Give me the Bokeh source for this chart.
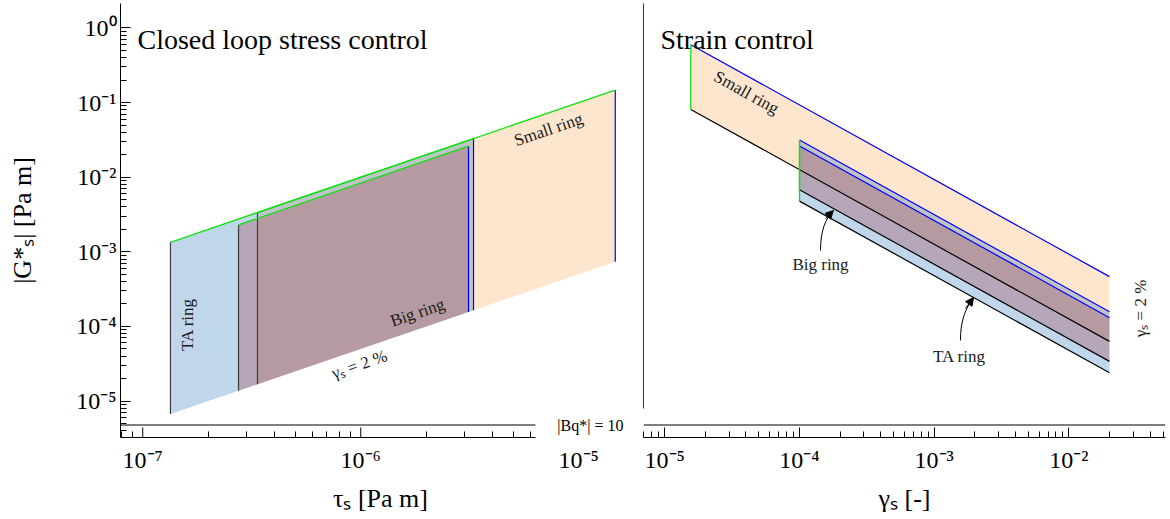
import numpy as np
from bokeh.plotting import figure
from bokeh.models import (FixedTicker, CustomJSTickFormatter, Span, Label, Arrow, NormalHead,
                          LogAxis)
from bokeh.layouts import row
from bokeh.embed import file_html
from bokeh.resources import INLINE
from bokeh.core.properties import value

# ---------------- data ----------------
ring_names = ["Small ring", "TA ring", "Big ring"]          # drawing order
ring_fill = ["#fcac5c", "#2d76b9", "#9f394a"]
gamma_max = 0.02                                            # gamma_s = 2 %

# closed loop stress control (left panel)
stress_tau_min = [3.36e-7, 1.34e-7, 2.75e-7]
stress_tau_max = [1.47e-5, 3.29e-6, 3.12e-6]
stress_gamma_min = [1.0e-4, 1.0e-4, 1.2e-4]

# strain control (right panel)
strain_gamma_min = [1.56e-5, 1.0e-4, 1.0e-4]
strain_tau_min = [1.26e-6, 4.78e-7, 6.8e-7]
strain_tau_max = [9.3e-6, 3.15e-6, 2.62e-6]

bq10_level = 4.77e-6          # |Bq*| = 10

x_ticks_stress = [1e-7, 1e-6]
x_labels_stress = [1e-7, 1e-6, 1e-5]
x_ticks_strain = [1e-5, 1e-4, 1e-3, 1e-2]
y_ticks = [1e-5, 1e-4, 1e-3, 1e-2, 1e-1, 1e0]

# ---------------- layout / style ----------------
SERIF = "Liberation Serif"
GREEN = "#10e010"
BLUE = "#0000ff"
EDGE_DARK = "#3a3a3a"

Y_RANGE = (10 ** -5.489, 10 ** 0.328)
X_RANGE_STRESS = (10 ** -7.102, 10 ** -4.717)
X_AXIS_END_STRESS = 10 ** -5.199
X_RANGE_STRAIN = (10 ** -5.158, 10 ** -1.283)
Y_AXIS_START_STRAIN = 10 ** -5.10

sup_js = """
const sup = {'-':'\u207b','0':'\u2070','1':'\u00b9','2':'\u00b2','3':'\u00b3','4':'\u2074','5':'\u2075','6':'\u2076','7':'\u2077','8':'\u2078','9':'\u2079'};
const e = Math.round(Math.log10(tick));
return '10' + String(e).split('').map(c => sup[c]).join('');
"""


def minor_ticks(k0, k1, upper=None):
    out = [m * 10.0 ** k for k in range(k0, k1) for m in range(2, 10)]
    if upper is not None:
        out = [t for t in out if t <= upper]
    return out


def style_axis(ax, ticks, minors):
    ax.ticker = FixedTicker(ticks=ticks, minor_ticks=minors)
    ax.formatter = CustomJSTickFormatter(code=sup_js)
    ax.axis_line_color = "black"
    ax.axis_line_width = 1
    ax.major_tick_in = 10
    ax.major_tick_out = 0
    ax.minor_tick_in = 6
    ax.minor_tick_out = 0
    ax.major_tick_line_color = "black"
    ax.minor_tick_line_color = "black"
    ax.major_label_text_font = SERIF
    ax.major_label_text_font_size = "24px"
    ax.major_label_text_color = "black"
    ax.axis_label_text_font = SERIF
    ax.axis_label_text_font_size = "26px"
    ax.axis_label_text_font_style = "normal"
    ax.axis_label_text_color = "black"


def make_fig(x_range, width, mb_left, mb_right):
    p = figure(width=width, height=517, x_axis_type="log", y_axis_type="log",
               x_range=x_range, y_range=Y_RANGE, output_backend="svg",
               toolbar_location=None, min_border_left=mb_left, min_border_right=mb_right,
               min_border_top=3, min_border_bottom=80)
    p.outline_line_color = None
    p.grid.visible = False
    p.background_fill_color = "white"
    p.border_fill_color = "white"
    return p


# ================= left panel: closed loop stress control =================
p1 = make_fig(X_RANGE_STRESS, 640, 120, 0)
# axis 1: line + minor ticks only, ending before the |Bq*| label
ax_line = p1.xaxis[0]
style_axis(ax_line, [], minor_ticks(-8, -5, X_AXIS_END_STRESS))
ax_line.bounds = (X_RANGE_STRESS[0], X_AXIS_END_STRESS)
ax_line.major_label_standoff = 0
# major tick marks of the bounded axis (half of each dash is clipped by the frame)
p1.scatter(x=x_ticks_stress, y=[Y_RANGE[0]] * len(x_ticks_stress), marker="dash",
           size=20, angle=np.pi / 2, line_color="black", line_width=1)
# axis 2: tick labels and title only
ax_lab = LogAxis()
style_axis(ax_lab, x_labels_stress, [])
ax_lab.axis_line_color = None
ax_lab.major_tick_line_color = None
ax_lab.minor_tick_line_color = None
ax_lab.major_tick_in = 0
ax_lab.minor_tick_in = 0
ax_lab.axis_label = "\u03c4\u209b [Pa m]"
ax_lab.major_label_standoff = 9
ax_lab.axis_label_standoff = 8
p1.add_layout(ax_lab, "below")

style_axis(p1.yaxis[0], y_ticks, minor_ticks(-6, 0))
p1.yaxis[0].axis_label = "|G*\u209b| [Pa m]"
p1.yaxis[0].major_label_standoff = 4
p1.yaxis[0].axis_label_standoff = 36

t0 = np.array(stress_tau_min)
t1 = np.array(stress_tau_max)
g0 = np.array(stress_gamma_min)
xs1 = [[a, b, b, a] for a, b in zip(t0, t1)]
ys1 = [[a / gamma_max, b / gamma_max, b / g, a / g] for a, b, g in zip(t0, t1, g0)]
p1.patches(xs=xs1, ys=ys1, fill_color=ring_fill, fill_alpha=0.3, line_alpha=0)
p1.segment(x0=t0, y0=t0 / gamma_max, x1=t0, y1=t0 / g0, line_color=EDGE_DARK, line_width=1.2)
p1.segment(x0=t1, y0=t1 / gamma_max, x1=t1, y1=t1 / g0, line_color=BLUE, line_width=1.2)
p1.segment(x0=t0, y0=t0 / g0, x1=t1, y1=t1 / g0, line_color=GREEN, line_width=1.3)

# |Bq*| = 10 limit
p1.segment(x0=[X_RANGE_STRESS[0]], y0=[bq10_level], x1=[X_AXIS_END_STRESS], y1=[bq10_level],
           line_color="black", line_width=1.2)
p1.add_layout(Label(x=1.13e-5, y=bq10_level, text="|Bq*| = 10", text_font=SERIF,
                    text_font_size="16px", text_color="black",
                    text_align="center", text_baseline="middle"))

ANG1 = float(np.arctan(74.6 / 218.0))
p1.text(x=[1.603e-7, 1.82e-6, 7.26e-6, 9.86e-7],
        y=[1.06e-4, 1.535e-4, 0.0436, 3.08e-5],
        text=["TA ring", "Big ring", "Small ring", "\u03b3\u209b = 2 %"],
        angle=[np.pi / 2, ANG1, ANG1, ANG1],
        text_font=value(SERIF), text_font_size="17px", text_color="#1a1a1a",
        text_align="center", text_baseline="middle")
p1.text(x=[9.46e-8], y=[0.701], text=["Closed loop stress control"],
        text_font=value(SERIF), text_font_size="28px", text_color="black",
        text_align="left", text_baseline="alphabetic")

# ================= right panel: strain control =================
p2 = make_fig(X_RANGE_STRAIN, 528, 3, 3)
style_axis(p2.xaxis[0], x_ticks_strain, minor_ticks(-6, -1))
p2.xaxis[0].axis_label = "\u03b3\u209b [-]"
p2.xaxis[0].major_label_standoff = 9
p2.xaxis[0].axis_label_standoff = 8
ya = p2.yaxis[0]
ya.ticker = FixedTicker(ticks=[], minor_ticks=[])
ya.major_tick_in = 0
ya.major_tick_out = 0
ya.minor_tick_in = 0
ya.minor_tick_out = 0
ya.major_label_standoff = 0
ya.axis_line_color = "#333333"
ya.bounds = (Y_AXIS_START_STRAIN, Y_RANGE[1])

sg0 = np.array(strain_gamma_min)
st0 = np.array(strain_tau_min)
st1 = np.array(strain_tau_max)
xs2 = [[g, gamma_max, gamma_max, g] for g in sg0]
ys2 = [[b / g, b / gamma_max, a / gamma_max, a / g] for a, b, g in zip(st0, st1, sg0)]
p2.patches(xs=xs2, ys=ys2, fill_color=ring_fill, fill_alpha=0.3, line_alpha=0)
p2.segment(x0=sg0, y0=st1 / sg0, x1=np.full(3, gamma_max), y1=st1 / gamma_max,
           line_color=BLUE, line_width=1.2)
p2.segment(x0=sg0, y0=st0 / sg0, x1=np.full(3, gamma_max), y1=st0 / gamma_max,
           line_color="black", line_width=1.2)
p2.segment(x0=sg0, y0=st0 / sg0, x1=sg0, y1=st1 / sg0, line_color=GREEN, line_width=1.3)

p2.add_layout(Span(location=bq10_level, dimension="width", line_color="black", line_width=1.2))

ANG2 = -float(np.arctan(74.6 / 134.7))
p2.text(x=[4.04e-5, 1.432e-4, 1.54e-3, 0.034],
        y=[0.1366, 6.76e-4, 3.95e-5, 1.74e-4],
        text=["Small ring", "Big ring", "TA ring", "\u03b3\u209b = 2 %"],
        angle=[ANG2, 0.0, 0.0, np.pi / 2],
        text_font=value(SERIF), text_font_size="17px", text_color="#1a1a1a",
        text_align="center", text_baseline="middle")
p2.text(x=[9.29e-6], y=[0.701], text=["Strain control"],
        text_font=value(SERIF), text_font_size="28px", text_color="black",
        text_align="left", text_baseline="alphabetic")

# curved arrows pointing to the ring bands
arr_x0 = [1.432e-4, 1.566e-3]
arr_y0 = [1.04e-3, 6.47e-5]
arr_cx0 = [1.432e-4, 1.566e-3]
arr_cy0 = [1.93e-3, 1.2e-4]
arr_cx1 = [1.56e-4, 1.706e-3]
arr_cy1 = [2.79e-3, 1.74e-4]
arr_x1 = [1.786e-4, 1.96e-3]
arr_y1 = [3.58e-3, 2.44e-4]
p2.bezier(x0=arr_x0, y0=arr_y0, x1=arr_x1, y1=arr_y1, cx0=arr_cx0, cy0=arr_cy0,
          cx1=arr_cx1, cy1=arr_cy1, line_color="black", line_width=1)
for i in range(2):
    p2.add_layout(Arrow(end=NormalHead(size=8, fill_color="black", line_color="black"),
                        x_start=arr_cx1[i], y_start=arr_cy1[i], x_end=arr_x1[i], y_end=arr_y1[i],
                        line_color="black", line_width=1))

layout = row(p1, p2)
open("out.html", "w").write(file_html(layout, INLINE))
